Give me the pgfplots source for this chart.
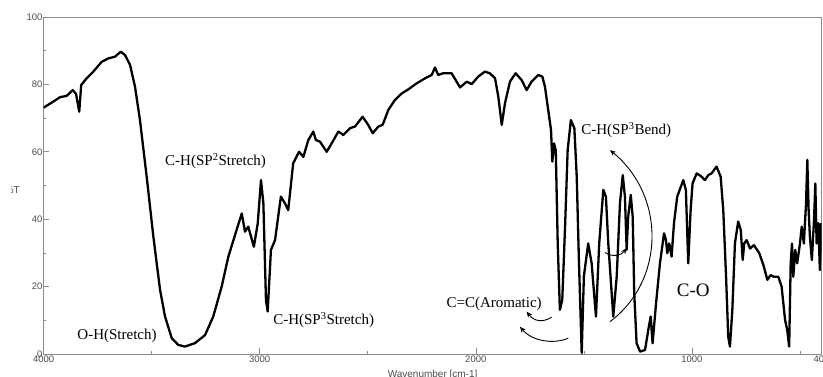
\documentclass[border=0pt]{standalone}
\usepackage{pgfplots}
\pgfplotsset{compat=1.18}
\usepackage{fontspec}
\setmainfont{Liberation Serif}
\setsansfont{Liberation Sans}
\usetikzlibrary{arrows.meta}
\begin{document}
\begin{tikzpicture}
\begin{axis}[
  name=ax, at={(0,0)}, anchor=south west,
  scale only axis, width=778pt, height=337pt,
  x dir=reverse, xmin=400, xmax=4000, ymin=0, ymax=100,
  xtick={4000,3000,2000,1000,400}, minor xtick={3500,2500,1500,500},
  ytick={0,20,40,60,80,100}, minor ytick={10,30,50,70,90},
  tick align=inside, xtick pos=bottom, ytick pos=left,
  major tick length=5.5pt, minor tick length=2.5pt,
  axis line style={black!45, line width=0.8pt},
  tick style={black!45, line width=0.6pt},
  ticklabel style={font=\sffamily\fontsize{9.5}{9.5}\selectfont, text=black!70},
  yticklabel style={inner sep=1pt},
  xticklabel style={inner sep=1.5pt},
  /pgf/number format/assume math mode=true,
  scaled x ticks=false, /pgf/number format/1000 sep={},
  xlabel={Wavenumber [cm-1]},
  xlabel style={font=\sffamily\fontsize{10}{10}\selectfont, text=black!70, at={(axis description cs:0.5,0)}, anchor=north, yshift=-12.5pt},
]
\addplot[black, line width=2.3pt, line join=round] table {
4000 73.1
3955 74.9
3924 76.2
3893 76.6
3865 78.3
3850 77.2
3835 71.9
3826 79.8
3801 81.8
3770 83.8
3731 86.7
3701 87.7
3670 88.2
3643 89.7
3623 88.7
3600 85.8
3577 79.3
3554 69.4
3523 52.6
3492 34.8
3461 19.0
3438 11.1
3407 4.7
3377 2.7
3346 2.2
3300 3.2
3253 5.6
3215 11.1
3176 20.0
3145 28.9
3107 36.8
3083 41.7
3068 36.3
3053 37.8
3027 31.8
3009 38.8
2994 51.6
2983 44.7
2971 16.0
2963 12.6
2948 30.9
2929 33.8
2902 46.7
2883 44.7
2868 42.7
2845 56.6
2818 60.0
2798 58.5
2775 63.5
2752 66.0
2740 63.5
2721 63.0
2690 60.0
2667 62.5
2636 66.0
2613 65.0
2582 67.0
2559 67.5
2524 70.4
2498 68.0
2477 65.5
2451 67.5
2431 68.0
2405 72.4
2374 75.4
2343 77.3
2313 78.5
2274 80.3
2235 81.8
2204 82.8
2189 85.0
2174 82.8
2151 83.3
2112 83.3
2073 79.1
2042 80.8
2019 80.1
1989 82.3
1958 83.8
1935 83.3
1911 81.8
1896 76.4
1880 68.0
1865 74.4
1842 80.8
1816 83.3
1788 81.3
1765 78.3
1742 80.8
1711 82.8
1692 82.3
1680 79.3
1665 72.4
1652 66.5
1646 57.1
1638 62.5
1630 60.5
1621 32.8
1611 13.1
1600 16.0
1587 37.8
1575 60.5
1560 69.4
1544 67.0
1533 52.6
1523 27.9
1510 0.3
1500 23.0
1480 32.8
1464 26.9
1444 11.1
1429 32.8
1410 48.7
1398 46.7
1387 32.8
1364 11.1
1348 23.0
1333 44.7
1320 53.1
1310 46.7
1302 30.9
1295 40.7
1283 47.2
1274 40.7
1267 18.0
1256 3.2
1240 0.7
1217 1.2
1202 7.1
1191 11.1
1182 3.2
1166 15.0
1148 26.9
1129 35.8
1120 33.8
1114 29.9
1105 32.8
1094 28.9
1083 38.8
1068 46.7
1040 51.6
1028 48.7
1017 26.9
1006 42.7
997 50.6
978 53.6
955 52.6
940 51.6
924 53.1
909 53.6
886 55.6
867 52.6
855 42.7
842 23.0
832 5.1
824 2.2
813 13.1
801 32.8
786 39.3
774 36.8
765 27.9
758 32.8
747 33.8
731 31.3
713 32.3
688 29.9
667 25.9
651 22.0
636 23.4
620 22.9
600 22.9
585 20.0
569 10.1
559 7.1
550 2.2
543 26.9
537 32.8
531 22.9
522 30.9
513 26.9
500 32.8
492 37.8
482 32.8
472 44.7
466 57.6
460 42.7
454 34.8
445 27.9
435 39.8
429 50.6
423 32.8
415 38.8
408 24.9
402 38.8
};
% annotations
\node[font=\fontsize{15}{15}\selectfont] at (axis cs:3660,5.3) {O-H(Stretch)};
\node[font=\fontsize{15}{15}\selectfont] at (axis cs:3204,57.3) {C-H(SP\textsuperscript{2}Stretch)};
\node[font=\fontsize{15}{15}\selectfont] at (axis cs:2704,10.1) {C-H(SP\textsuperscript{3}Stretch)};
\node[font=\fontsize{15}{15}\selectfont] at (axis cs:1915,14.8) {C=C(Aromatic)};
\node[font=\fontsize{15}{15}\selectfont] at (axis cs:1304,66.5) {C-H(SP\textsuperscript{3}Bend)};
\node[font=\fontsize{19}{19}\selectfont] at (axis cs:994,19.0) {C-O};
\draw[black, line width=0.9pt, -{Stealth[length=6pt,width=5pt]}] (axis cs:1649,10.9) .. controls (axis cs:1690,9.3) and (axis cs:1730,9.6) .. (axis cs:1765,12.6);
\draw[black, line width=0.9pt, -{Stealth[length=6pt,width=5pt]}] (axis cs:1572,4.7) .. controls (axis cs:1640,2.8) and (axis cs:1740,3.8) .. (axis cs:1796,8.1);
\draw[black, line width=0.9pt, -{Stealth[length=6pt,width=5pt]}] (axis cs:1402,30.1) .. controls (axis cs:1370,28.8) and (axis cs:1330,29.0) .. (axis cs:1302,31.4);
\draw[black, line width=0.9pt, -{Stealth[length=6pt,width=5pt]}] (axis cs:1379,9.6) .. controls (axis cs:1122,22) and (axis cs:1122,47) .. (axis cs:1379,60.5);
\end{axis}
\begin{scope}
\clip ([shift={(-32.3pt,150pt)}]ax.south west) rectangle ([shift={(-18pt,180pt)}]ax.south west);
\node[font=\sffamily\fontsize{10}{10}\selectfont, text=black!70, anchor=east, inner sep=0pt] at ([shift={(-23.6pt,164pt)}]ax.south west) {\%T};
\end{scope}
\pgfresetboundingbox
\useasboundingbox ([shift={(-43.6pt,-23pt)}]ax.south west) rectangle ([shift={(779.4pt,354pt)}]ax.south west);
\end{tikzpicture}
\end{document}
